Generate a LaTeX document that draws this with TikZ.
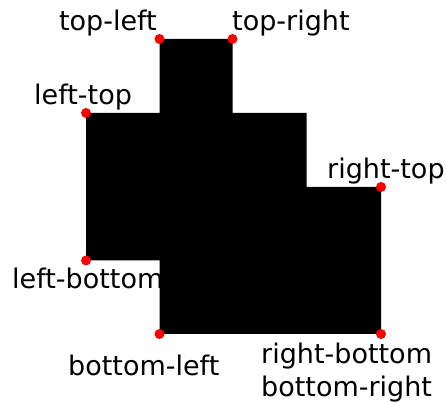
\documentclass[tikz,border=0pt]{standalone}
\usepackage{fontspec}
\setmainfont{DejaVu Sans}
\begin{document}
\begin{tikzpicture}[x=1pt,y=1pt,
  lbl/.style={inner sep=0pt,font=\fontsize{27}{32}\selectfont},
  pt/.style={circle,fill=red,inner sep=0pt,minimum size=10pt}]
\useasboundingbox (0,0) rectangle (446,403);
\coordinate (TL) at (159.5,364);
\coordinate (TR) at (232.5,364);
\coordinate (A) at (232.5,290);
\coordinate (B) at (306.5,290);
\coordinate (C) at (306.5,216);
\coordinate (RT) at (381,216);
\coordinate (RB) at (381,69);
\coordinate (BL) at (159.5,69);
\coordinate (D) at (159.5,142.5);
\coordinate (LB) at (86,142.5);
\coordinate (LT) at (86,290);
\coordinate (E) at (159.5,290);
\fill[black] (TL) -- (TR) -- (A) -- (B) -- (C) -- (RT) -- (RB) -- (BL) -- (D) -- (LB) -- (LT) -- (E) -- cycle;
\foreach \p in {TL,TR,RT,RB,BL,LB,LT} \node[pt] (d\p) at (\p) {};
\node[lbl,anchor=base east] (tTL) at (157,372.3) {top-left};
\node[lbl,anchor=base west] (tTR) at (232,372.3) {top-right};
\node[lbl,anchor=base west] (tLT) at (34,298) {left-top};
\node[lbl,anchor=base west] (tRT) at (327,224) {right-top};
\node[lbl,anchor=base west] (tLB) at (12,114) {left-bottom};
\node[lbl,anchor=base west] (tBL) at (68,27) {bottom-left};
\node[lbl,anchor=base west] (tRB) at (261,39) {right-bottom};
\node[lbl,anchor=base west] (tBR) at (261,6) {bottom-right};
\end{tikzpicture}
\end{document}
